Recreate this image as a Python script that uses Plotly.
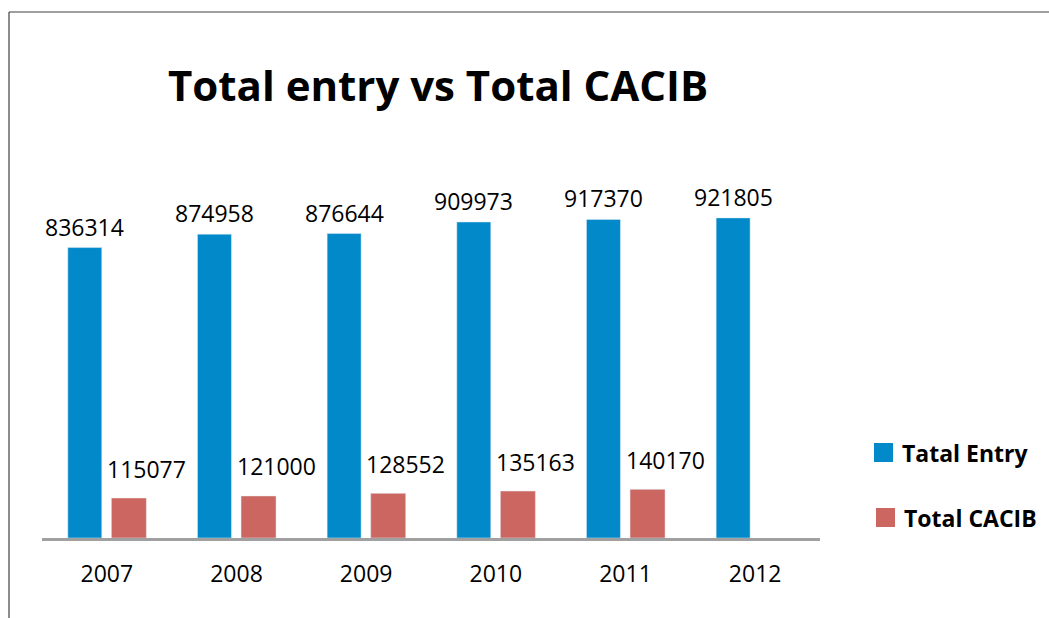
import plotly.graph_objects as go

years = ["2007", "2008", "2009", "2010", "2011", "2012"]
total_entry = [836314, 874958, 876644, 909973, 917370, 921805]
total_cacib = [115077, 121000, 128552, 135163, 140170, None]
series_names = ["Tatal Entry", "Total CACIB"]
title_text = "Total entry vs Total CACIB"

BLUE = "#0189CA"
RED = "#CC6660"
FONT = "Open Sans"

xpos = list(range(len(years)))

fig = go.Figure()
fig.add_trace(go.Bar(x=xpos, y=total_entry, name=series_names[0], marker_color=BLUE,
                     width=0.262, offset=-0.301, showlegend=False, hoverinfo="skip"))
fig.add_trace(go.Bar(x=xpos, y=total_cacib, name=series_names[1], marker_color=RED,
                     width=0.27, offset=0.035, showlegend=False, hoverinfo="skip"))

annotations = []
for i, v in enumerate(total_entry):
    annotations.append(dict(x=i - 0.17, y=v, xref="x", yref="y", text=str(v), showarrow=False,
                            yanchor="bottom", yshift=3, font=dict(family=FONT, size=23, color="black")))
for i, v in enumerate(total_cacib):
    if v is None:
        continue
    annotations.append(dict(x=i + 0.305, y=v, xref="x", yref="y", text=str(v), showarrow=False,
                            yanchor="bottom", yshift=11.5, font=dict(family=FONT, size=23, color="black")))

# title
annotations.append(dict(x=(437.5 - 42) / 778, y=(538 - 84) / 382, xref="paper", yref="paper",
                        text="<b>%s</b>" % title_text, showarrow=False, xanchor="center", yanchor="middle",
                        font=dict(family=FONT, size=42, color="black")))

# manual legend
annotations.append(dict(x=(900 - 42) / 778, y=(538 - 452.5) / 382, xref="paper", yref="paper",
                        text="<b>%s</b>" % series_names[0], showarrow=False, xanchor="left", yanchor="middle",
                        font=dict(family=FONT, size=23, color="black")))
annotations.append(dict(x=(902 - 42) / 778, y=(538 - 517.5) / 382, xref="paper", yref="paper",
                        text="<b>%s</b>" % series_names[1], showarrow=False, xanchor="left", yanchor="middle",
                        font=dict(family=FONT, size=23, color="black")))

def px(xp):
    return (xp - 42) / 778

def py(yp):
    return (538 - yp) / 382

shapes = [
    dict(type="rect", xref="paper", yref="paper", x0=px(874), x1=px(893), y0=py(462), y1=py(443),
         fillcolor=BLUE, line=dict(width=0)),
    dict(type="rect", xref="paper", yref="paper", x0=px(876), x1=px(895), y0=py(527), y1=py(508),
         fillcolor=RED, line=dict(width=0)),
    # chart frame
    dict(type="line", xref="paper", yref="paper", x0=px(9), x1=px(9), y0=py(12), y1=py(640),
         line=dict(color="#404040", width=1.2)),
    dict(type="line", xref="paper", yref="paper", x0=px(9), x1=px(1060), y0=py(12), y1=py(12),
         line=dict(color="#404040", width=1.2)),
]

fig.update_layout(
    width=1049, height=618,
    margin=dict(l=42, r=229, t=156, b=80),
    paper_bgcolor="white", plot_bgcolor="white",
    barmode="overlay",
    annotations=annotations,
    shapes=shapes,
    showlegend=False,
    xaxis=dict(range=[-0.5, 5.5], tickvals=xpos, ticktext=years, showgrid=False, zeroline=False,
               showline=True, linecolor="#A0A0A0", linewidth=2.5, ticks="", ticklabelstandoff=14,
               tickfont=dict(family=FONT, size=23, color="black"), fixedrange=True),
    yaxis=dict(range=[0, 1100000], visible=False, fixedrange=True),
)

fig.write_html("out.html", config={"displayModeBar": False})
